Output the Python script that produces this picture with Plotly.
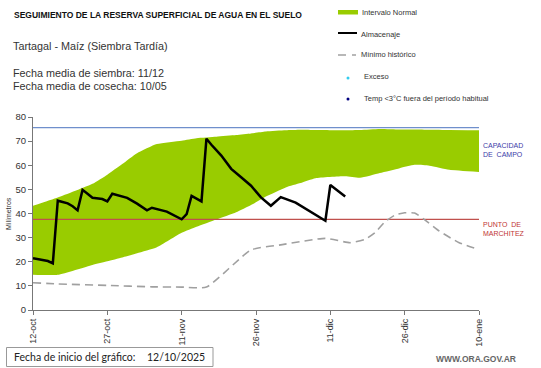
import pandas as pd
import plotly.graph_objects as go

# ---------------- data ----------------
START_DATE = "2025-10-12"

band_days = [0, 5, 12, 15, 18, 21, 25, 30, 33, 37, 41, 44, 47, 51, 54, 57, 63, 66, 70, 74, 77, 80, 84, 90]
band_lower = [14.6, 14.6, 18.7, 20.2, 21.8, 23.5, 26.0, 32.0, 34.5, 37.5, 40.5, 43.5, 47.0, 50.8, 52.6, 54.6, 55.4, 54.8, 56.8, 58.8, 60.2, 59.8, 58.1, 57.2]
band_upper = [43.2, 46.6, 52.3, 56.1, 60.5, 65.0, 68.8, 70.2, 71.2, 71.8, 72.5, 73.2, 74.0, 74.5, 74.7, 74.6, 74.5, 74.6, 75.0, 74.8, 74.8, 74.7, 74.6, 74.5]

alm_days = [0, 3, 4, 5, 7, 8, 9, 10, 11, 12, 14, 15, 16, 19, 21, 23, 24, 27, 30, 31, 32, 34, 35, 36, 38, 40, 42, 44, 46, 48, 50, 53, 59, 60, 63]
alm_vals = [21.5, 20.3, 19.3, 45.3, 44.2, 43.0, 41.3, 49.8, 48.2, 46.5, 46.0, 45.0, 48.2, 46.5, 44.1, 41.3, 42.4, 40.8, 37.6, 39.7, 47.3, 45.0, 71.0, 68.5, 64.0, 58.5, 55.0, 51.5, 46.7, 43.2, 46.8, 44.5, 37.0, 51.8, 47.0]

min_days = [0, 5, 15, 24, 30, 35, 44, 50, 59, 64, 67, 69, 71, 73, 75, 77, 79, 82, 86, 90]
min_vals = [11.3, 10.8, 10.2, 9.6, 9.5, 9.5, 24.9, 27.0, 29.7, 27.9, 29.3, 32.0, 36.5, 39.3, 40.3, 40.2, 37.5, 32.7, 27.9, 25.1]

CAPACIDAD_CAMPO = 75.6
PUNTO_MARCHITEZ = 37.6

tick_days = [0, 15, 30, 45, 60, 75, 90]
tick_labels = ["12-oct", "27-oct", "11-nov", "26-nov", "11-dic", "26-dic", "10-ene"]
y_ticks = [0, 10, 20, 30, 40, 50, 60, 70, 80]

# ---------------- helpers ----------------
start = pd.Timestamp(START_DATE)


def to_dates(days):
    return [start + pd.Timedelta(days=d) for d in days]


W, H = 541, 368
ML, MR, MT, MB = 33, 62, 117, 58
PW, PH = W - ML - MR, H - MT - MB


def px(x):
    return (x - ML) / PW


def py(y):
    return (H - MB - y) / PH


FONT = "Liberation Sans, Arial, sans-serif"
x_full = to_dates([tick_days[0], tick_days[-1]])

fig = go.Figure()

# green band
fig.add_trace(go.Scatter(x=to_dates(band_days), y=band_lower, mode="lines",
                         line=dict(width=0, color="#99cc00", shape="spline", smoothing=0.5),
                         showlegend=False, hoverinfo="skip"))
fig.add_trace(go.Scatter(x=to_dates(band_days), y=band_upper, mode="lines", fill="tonexty",
                         fillcolor="#99cc00", line=dict(width=0, color="#99cc00", shape="spline", smoothing=0.5),
                         showlegend=False, name="Intervalo Normal"))

# reference lines
fig.add_trace(go.Scatter(x=x_full, y=[PUNTO_MARCHITEZ] * 2, mode="lines",
                         line=dict(color="#c0504d", width=1.2), showlegend=False))
fig.add_trace(go.Scatter(x=x_full, y=[CAPACIDAD_CAMPO] * 2, mode="lines",
                         line=dict(color="#6f8fcc", width=1.2), showlegend=False))

# minimum historic
fig.add_trace(go.Scatter(x=to_dates(min_days), y=min_vals, mode="lines",
                         line=dict(color="#a0a0a0", width=1.6, dash="8px,5px", shape="spline", smoothing=0.5),
                         showlegend=False, name="Mínimo histórico"))

# storage
fig.add_trace(go.Scatter(x=to_dates(alm_days), y=alm_vals, mode="lines",
                         line=dict(color="#000000", width=2.5), showlegend=False, name="Almacenaje"))

fig.update_xaxes(range=x_full, tickvals=to_dates(tick_days), ticktext=tick_labels,
                 tickangle=-90, ticks="outside", ticklen=4, tickcolor="#777",
                 showline=True, linecolor="#777", linewidth=1.2, showgrid=False, zeroline=False,
                 tickfont=dict(family=FONT, size=9, color="#333"))
fig.update_yaxes(range=[0, 80], tickvals=y_ticks, ticks="outside", ticklen=4, tickcolor="#777",
                 showline=True, linecolor="#777", linewidth=1.2, showgrid=False, zeroline=False,
                 tickfont=dict(family=FONT, size=9.5, color="#333"))

ann = []
shapes = []


def text(x, y, s, size, color="#222", bold=False, xanchor="left", family=FONT, angle=0):
    if bold:
        s = "<b>" + s + "</b>"
    ann.append(dict(x=px(x), y=py(y), xref="paper", yref="paper", text=s, showarrow=False,
                    xanchor=xanchor, yanchor="middle", textangle=angle,
                    font=dict(family=family, size=size, color=color)))


text(12, 15, "SEGUIMIENTO DE LA RESERVA SUPERFICIAL DE AGUA EN EL SUELO", 8.5, "#111", bold=True)
text(11, 46, "Tartagal - Maíz (Siembra Tardía)", 10.8, "#333")
text(11, 73, "Fecha media de siembra: 11/12", 10.8, "#333")
text(11, 86, "Fecha media de cosecha: 10/05", 10.8, "#333")

# legend
shapes.append(dict(type="rect", xref="paper", yref="paper", x0=px(338), x1=px(358), y0=py(14.5), y1=py(10),
                   fillcolor="#99cc00", line=dict(width=0)))
text(360, 12, "Intervalo Normal", 7.5, "#333")
shapes.append(dict(type="line", xref="paper", yref="paper", x0=px(338), x1=px(357), y0=py(33), y1=py(33),
                   line=dict(color="#000", width=2)))
text(359, 34, "Almacenaje", 7.5, "#333")
shapes.append(dict(type="line", xref="paper", yref="paper", x0=px(338), x1=px(346), y0=py(55), y1=py(55),
                   line=dict(color="#a0a0a0", width=1.5)))
shapes.append(dict(type="line", xref="paper", yref="paper", x0=px(352), x1=px(356), y0=py(55), y1=py(55),
                   line=dict(color="#a0a0a0", width=1.5)))
text(359, 55, "Mínimo histórico", 7.5, "#333")
shapes.append(dict(type="circle", xref="paper", yref="paper", x0=px(346.5), x1=px(349.5), y0=py(79.5), y1=py(76.5),
                   fillcolor="#33ccee", line=dict(width=0)))
text(362, 77, "Exceso", 7.5, "#333")
shapes.append(dict(type="circle", xref="paper", yref="paper", x0=px(346.5), x1=px(349.5), y0=py(100.5), y1=py(97.5),
                   fillcolor="#000080", line=dict(width=0)))
text(362, 99, "Temp <3°C fuera del período habitual", 7.5, "#333")

# right side labels
text(481, 145, "CAPACIDAD", 7, "#3c3ca8")
text(481, 154, "DE  CAMPO", 7, "#3c3ca8")
text(481, 224, "PUNTO  DE", 7, "#c03535")
text(481, 233, "MARCHITEZ", 7, "#c03535")

# y axis title
text(8, 214, "Milímetros", 7, "#333", xanchor="center", angle=-90)

# bottom box
shapes.append(dict(type="rect", xref="paper", yref="paper", x0=px(6.5), x1=px(213), y0=py(366.5), y1=py(347.5),
                   fillcolor="white", line=dict(color="#999", width=1)))
text(12, 357, "Fecha de inicio del gráfico:", 10.5, "#222", family="Lato, sans-serif")
text(145, 357, "12/10/2025", 10.5, "#222", family="Lato, sans-serif")

text(518, 359, "WWW.ORA.GOV.AR", 8.5, "#666", bold=True, xanchor="right")

fig.update_layout(width=W, height=H, margin=dict(l=ML, r=MR, t=MT, b=MB, autoexpand=False),
                  paper_bgcolor="white", plot_bgcolor="white", showlegend=False,
                  annotations=ann, shapes=shapes)

fig.write_html("out.html", config={"displayModeBar": False},
               post_script="document.body.style.margin='0';document.body.style.overflow='hidden';")
